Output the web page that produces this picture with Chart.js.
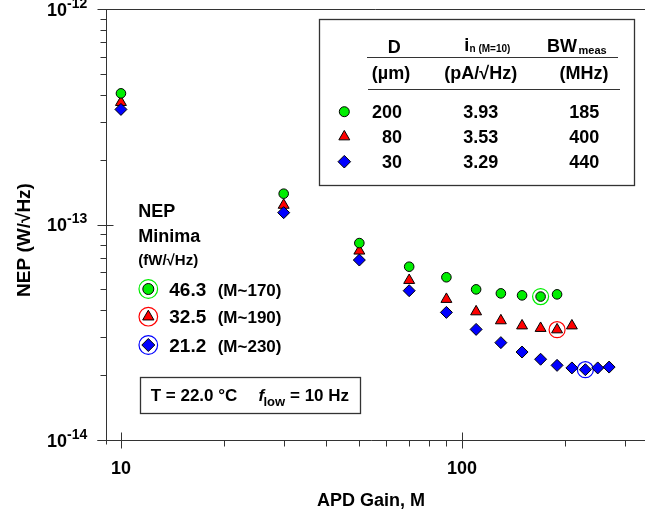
<!DOCTYPE html>
<html>
<head>
<meta charset="utf-8">
<script src="https://cdn.jsdelivr.net/npm/chart.js@4"></script>
<style>
  html, body { margin: 0; padding: 0; background: #fff; }
</style>
</head>
<body>
<canvas id="chart" width="645" height="520"></canvas>
<script>
// NEP values in fW/√Hz
const gain200 = [10, 30, 50, 70, 90, 110, 130, 150, 170, 190]
const nep200 = [406, 139, 82, 63.7, 56.9, 50.0, 47.9, 46.9, 46.3, 47.4]
const gain80 = [10, 30, 50, 70, 90, 110, 130, 150, 170, 190, 210]
const nep80 = [369, 123, 75.4, 55.1, 45.0, 39.4, 35.8, 33.9, 33.0, 32.5, 33.9]
const gain30 = [10, 30, 50, 70, 90, 110, 130, 150, 170, 190, 210, 230, 250, 270]
const nep30 = [342, 113.5, 68.4, 49.3, 39.1, 32.6, 28.3, 25.6, 23.7, 22.2, 21.6, 21.2, 21.6, 21.8]
const minGain = [170, 190, 230]
const minNep = [46.3, 32.5, 21.2]
const minLabels = ['(M~170)', '(M~190)', '(M~230)']

const xTicks = [10, 100]
const xMinorTicks = [20, 30, 40, 50, 60, 70, 80, 90, 200, 300]
const yTickExp = [-12, -13, -14]

const diameters = ['200', '80', '30']
const noiseCurrent = ['3.93', '3.53', '3.29']
const bandwidth = ['185', '400', '440']

const GREEN = '#00ee00', RED = '#ff0000', BLUE = '#0000ff'
const colors = [GREEN, RED, BLUE]
const shapes = ['circle', 'triangle', 'rectRot']
const FONT = '"Liberation Sans", Arial, sans-serif'

function pts(g, n) {
    return g.map((x, i) => ({ x: x, y: n[i] * 1e-15 }))
}

function text(ctx, s, x, y, size, align, italic) {
    ctx.font = (italic ? 'italic ' : '') + 'bold ' + size + 'px ' + FONT
    ctx.textAlign = align || 'left'
    ctx.textBaseline = 'alphabetic'
    ctx.fillStyle = '#000'
    ctx.fillText(s, x, y)
}

function line(ctx, x1, y1, x2, y2) {
    ctx.beginPath()
    ctx.moveTo(x1, y1)
    ctx.lineTo(x2, y2)
    ctx.stroke()
}

function marker(ctx, style, x, y, r, fill) {
    ctx.beginPath()
    if (style === 'circle') ctx.arc(x, y, r, 0, Math.PI * 2)
    else if (style === 'triangle') {
        ctx.moveTo(x, y - r)
        ctx.lineTo(x + r * 0.866, y + r / 2)
        ctx.lineTo(x - r * 0.866, y + r / 2)
        ctx.closePath()
    } else {
        ctx.moveTo(x - r, y)
        ctx.lineTo(x, y - r)
        ctx.lineTo(x + r, y)
        ctx.lineTo(x, y + r)
        ctx.closePath()
    }
    ctx.fillStyle = fill
    ctx.fill()
    ctx.strokeStyle = '#000'
    ctx.lineWidth = 1
    ctx.stroke()
}

function ring(ctx, x, y, r, color) {
    ctx.beginPath()
    ctx.arc(x, y, r, 0, Math.PI * 2)
    ctx.strokeStyle = color
    ctx.lineWidth = 1.2
    ctx.stroke()
}

const axesPlugin = {
    id: 'axes',
    beforeDatasetsDraw(chart) {
        const ctx = chart.ctx, a = chart.chartArea
        const xs = chart.scales.x, ys = chart.scales.y
        const px = v => Math.round(v) + 0.5
        ctx.save()
        ctx.strokeStyle = '#333'
        ctx.lineWidth = 1
        line(ctx, px(a.left), px(a.top), px(a.left), px(a.bottom) + 4)
        line(ctx, px(a.left), px(a.top), a.right, px(a.top))
        line(ctx, px(a.left) - 9, px(a.bottom), a.right, px(a.bottom))
        yTickExp.forEach(e => {
            const y = px(ys.getPixelForValue(Math.pow(10, e)))
            line(ctx, px(a.left) - 9, y, px(a.left) + 7, y)
        })
        ;[-14, -13].forEach(e => {
            for (let m = 2; m <= 9; m++) {
                const y = px(ys.getPixelForValue(m * Math.pow(10, e)))
                line(ctx, px(a.left) - 6, y, px(a.left), y)
            }
        })
        xTicks.forEach(v => {
            const x = px(xs.getPixelForValue(v))
            line(ctx, x, px(a.bottom) - 8, x, px(a.bottom) + 8)
        })
        xMinorTicks.forEach(v => {
            const x = px(xs.getPixelForValue(v))
            line(ctx, x, px(a.bottom), x, px(a.bottom) + 6)
        })
        ctx.restore()
    },
    afterDraw(chart) {
        const ctx = chart.ctx, a = chart.chartArea
        const xs = chart.scales.x, ys = chart.scales.y
        ctx.save()

        // y tick labels 10^n
        yTickExp.forEach(e => {
            const y = ys.getPixelForValue(Math.pow(10, e))
            text(ctx, '10', 67, y + 6.5, 18, 'right')
            text(ctx, '-' + Math.abs(e), 67, y - 1.5, 14, 'left')
        })
        // x tick labels
        xTicks.forEach(v => {
            text(ctx, String(v), xs.getPixelForValue(v), 474, 18, 'center')
        })
        // axis titles
        text(ctx, 'APD Gain, M', 371, 506, 18, 'center')
        ctx.save()
        ctx.translate(30, 240)
        ctx.rotate(-Math.PI / 2)
        text(ctx, 'NEP (W/\u221AHz)', 0, 0, 19, 'center')
        ctx.restore()

        // table legend
        ctx.strokeStyle = '#333'
        ctx.lineWidth = 1.3
        ctx.strokeRect(319.5, 19.5, 315, 166)
        ctx.lineWidth = 1
        line(ctx, 367, 57.5, 618, 57.5)
        line(ctx, 368, 89.5, 620, 89.5)
        text(ctx, 'D', 394.3, 53, 18, 'center')
        text(ctx, 'i', 464.3, 50.5, 18, 'left')
        text(ctx, 'n (M=10)', 469.5, 52, 10, 'left')
        text(ctx, 'BW', 547, 51.5, 18, 'left')
        text(ctx, 'meas', 578.5, 54, 11, 'left')
        text(ctx, '(\u00B5m)', 391, 78.5, 18, 'center')
        text(ctx, '(pA/\u221AHz)', 480.7, 78.5, 18, 'center')
        text(ctx, '(MHz)', 584, 78.5, 18, 'center')
        const rowY = [111.7, 136.7, 161.7]
        rowY.forEach((y, i) => {
            marker(ctx, shapes[i], 344.3, y, i === 0 ? 5 : 6.3, colors[i])
            text(ctx, diameters[i], 402, y + 6.5, 18, 'right')
            text(ctx, noiseCurrent[i], 480.7, y + 6.5, 18, 'center')
            text(ctx, bandwidth[i], 584.3, y + 6.5, 18, 'center')
        })

        // NEP minima legend
        text(ctx, 'NEP', 138.3, 217.3, 18, 'left')
        text(ctx, 'Minima', 138.3, 241.7, 18, 'left')
        text(ctx, '(fW/\u221AHz)', 138.3, 265, 15, 'left')
        const legY = [289, 316.7, 345]
        legY.forEach((y, i) => {
            ring(ctx, 148.3, y, 9.3, colors[i])
            marker(ctx, shapes[i], 148.3, y, i === 0 ? 5.5 : 6.5, colors[i])
            text(ctx, minNep[i].toFixed(1), 169.3, y + 6.5, 19, 'left')
            text(ctx, minLabels[i], 217.7, y + 6.5, 17, 'left')
        })

        // conditions box
        ctx.strokeStyle = '#333'
        ctx.lineWidth = 1.3
        ctx.strokeRect(140.5, 377.5, 220, 36)
        text(ctx, 'T = 22.0 \u00B0C', 150.7, 400.7, 17, 'left')
        text(ctx, 'f', 258.5, 400.7, 17, 'left', true)
        text(ctx, 'low', 263.5, 406, 13, 'left')
        text(ctx, '= 10 Hz', 290, 400.7, 17, 'left')

        ctx.restore()
    }
}

const ctx = document.getElementById('chart').getContext('2d')
const myChart = new Chart(ctx, {
    type: 'scatter',
    data: {
        datasets: [
            {
                data: pts(gain30, nep30),
                pointStyle: 'rectRot',
                pointRadius: 6,
                backgroundColor: BLUE,
                borderColor: '#000',
                borderWidth: 1
            },
            {
                data: pts(gain200, nep200),
                pointStyle: 'circle',
                pointRadius: 4.8,
                backgroundColor: GREEN,
                borderColor: '#000',
                borderWidth: 1
            },
            {
                data: pts(gain80, nep80),
                pointStyle: 'triangle',
                pointRadius: 6.3,
                backgroundColor: RED,
                borderColor: '#000',
                borderWidth: 1
            },
            {
                data: pts(minGain, minNep),
                pointStyle: 'circle',
                pointRadius: 8,
                backgroundColor: 'rgba(0,0,0,0)',
                borderColor: colors,
                borderWidth: 1.2
            }
        ]
    },
    options: {
        responsive: false,
        animation: false,
        events: [],
        layout: { autoPadding: false, padding: { left: 106, top: 9, right: 0, bottom: 80 } },
        plugins: { legend: { display: false }, tooltip: { enabled: false } },
        scales: {
            x: { type: 'logarithmic', display: false, min: 9.04, max: 344 },
            y: { type: 'logarithmic', display: false, min: 1e-14, max: 1e-12 }
        }
    },
    plugins: [axesPlugin]
})
</script>
</body>
</html>
